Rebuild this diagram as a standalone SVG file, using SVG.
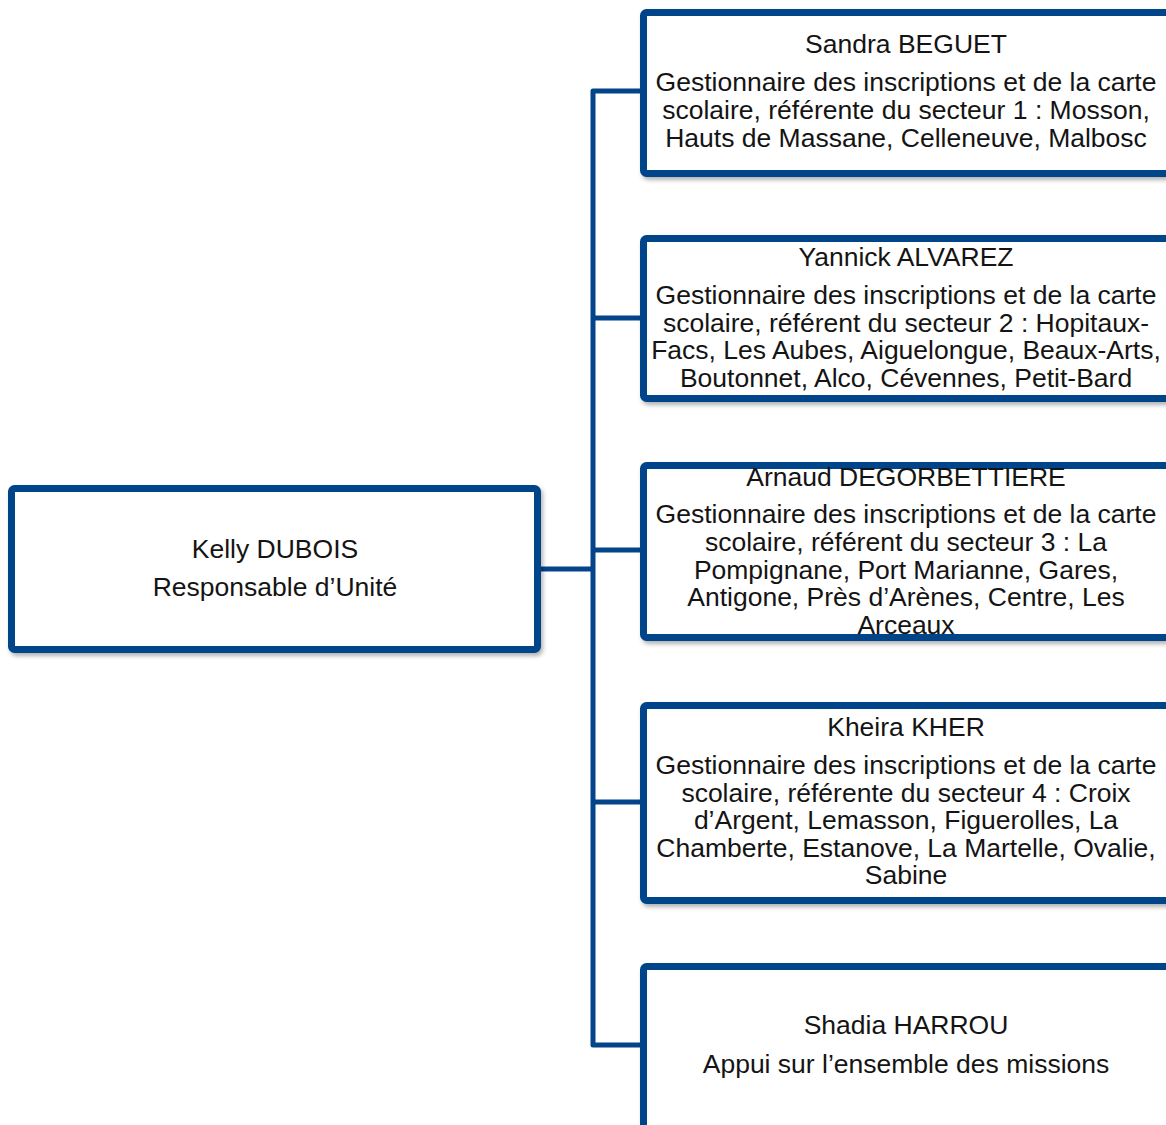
<svg xmlns="http://www.w3.org/2000/svg" width="1166" height="1125" viewBox="0 0 1166 1125">
  <style>
    .box { fill: #ffffff; stroke: #03448a; stroke-width: 7; filter: url(#shadow); }
    .link { fill: none; stroke: #03448a; stroke-width: 5; stroke-linejoin: round; }
    text { font-family: "Liberation Sans", Arial, sans-serif; font-size: 26.5px; fill: #141414; text-anchor: middle; }
  </style>
  <defs>
    <filter id="shadow" x="-5%" y="-10%" width="115%" height="130%">
      <feDropShadow dx="2" dy="3" stdDeviation="2" flood-color="#000000" flood-opacity="0.3"/>
    </filter>
  </defs>

  <!-- connectors -->
  <g id="connectors">
    <path class="link" d="M541 569 H593"/>
    <path class="link" d="M640 91 H593 V1045 H640"/>
    <path class="link" d="M593 318 H640"/>
    <path class="link" d="M593 550 H640"/>
    <path class="link" d="M593 802 H640"/>
  </g>

  <!-- head of unit -->
  <g id="node-dubois">
    <rect class="box" x="11.5" y="488.5" width="526" height="161" rx="3"/>
    <text x="275" y="558">Kelly DUBOIS</text>
    <text x="275" y="596">Responsable d’Unité</text>
  </g>

  <g id="node-beguet">
    <rect class="box" x="643.5" y="12.5" width="527" height="161" rx="3"/>
    <text x="906" y="53">Sandra BEGUET</text>
    <text x="906" y="91">Gestionnaire des inscriptions et de la carte</text>
    <text x="906" y="119">scolaire, référente du secteur 1 : Mosson,</text>
    <text x="906" y="147">Hauts de Massane, Celleneuve, Malbosc</text>
  </g>

  <g id="node-alvarez">
    <rect class="box" x="643.5" y="238.5" width="527" height="160" rx="3"/>
    <text x="906" y="266">Yannick ALVAREZ</text>
    <text x="906" y="304">Gestionnaire des inscriptions et de la carte</text>
    <text x="906" y="332">scolaire, référent du secteur 2 : Hopitaux-</text>
    <text x="906" y="359">Facs, Les Aubes, Aiguelongue, Beaux-Arts,</text>
    <text x="906" y="387">Boutonnet, Alco, Cévennes, Petit-Bard</text>
  </g>

  <g id="node-degorbettiere">
    <rect class="box" x="643.5" y="465.5" width="527" height="172" rx="3"/>
    <text x="906" y="486">Arnaud DEGORBETTIERE</text>
    <text x="906" y="523">Gestionnaire des inscriptions et de la carte</text>
    <text x="906" y="551">scolaire, référent du secteur 3 : La</text>
    <text x="906" y="579">Pompignane, Port Marianne, Gares,</text>
    <text x="906" y="606">Antigone, Près d’Arènes, Centre, Les</text>
    <text x="906" y="634">Arceaux</text>
  </g>

  <g id="node-kher">
    <rect class="box" x="643.5" y="705.5" width="527" height="195" rx="3"/>
    <text x="906" y="736">Kheira KHER</text>
    <text x="906" y="774">Gestionnaire des inscriptions et de la carte</text>
    <text x="906" y="802">scolaire, référente du secteur 4 : Croix</text>
    <text x="906" y="829">d’Argent, Lemasson, Figuerolles, La</text>
    <text x="906" y="857">Chamberte, Estanove, La Martelle, Ovalie,</text>
    <text x="906" y="884">Sabine</text>
  </g>

  <g id="node-harrou">
    <rect class="box" x="643.5" y="966.5" width="527" height="172" rx="3"/>
    <text x="906" y="1034">Shadia HARROU</text>
    <text x="906" y="1073">Appui sur l’ensemble des missions</text>
  </g>
</svg>
